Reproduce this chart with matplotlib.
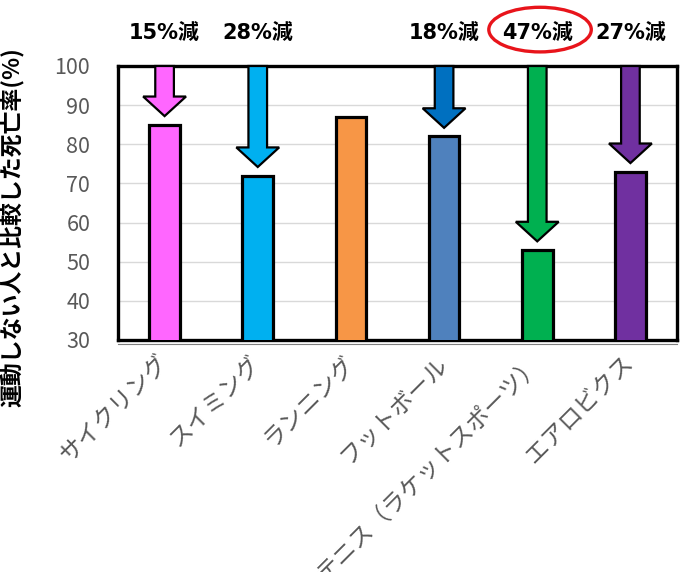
import matplotlib.pyplot as plt
from matplotlib.patches import Polygon, Ellipse

plt.rcParams['font.family'] = ['Noto Sans CJK JP', 'DejaVu Sans']

# data
sports = ["サイクリング", "スイミング", "ランニング", "フットボール",
          "テニス（ラケットスポーツ）", "エアロビクス"]
death_rate = [85, 72, 87, 82, 53, 73]
show_arrow = [True, True, False, True, True, True]
bar_colors = ["#FF66FF", "#00B0F0", "#F79646", "#4F81BD", "#00B050", "#7030A0"]
arrow_colors = ["#FF66FF", "#00B0F0", None, "#0070C0", "#00B050", "#7030A0"]
highlight = 4  # 47%減 gets the red circle


def main():
    fig = plt.figure(figsize=(6.81, 5.72), dpi=100)
    ax = fig.add_axes([118 / 681, 1 - 340 / 572, (677 - 118) / 681, (340 - 66) / 572])

    x = list(range(len(sports)))
    ax.bar(x, death_rate, width=0.33, color=bar_colors, edgecolor="black",
           linewidth=2.3, zorder=3)

    ax.set_xlim(-0.5, len(sports) - 0.5)
    ax.set_ylim(30, 100)
    ax.set_yticks(range(30, 101, 10))
    ax.yaxis.grid(True, color="#D9D9D9", linewidth=1.0, zorder=0)
    ax.set_axisbelow(True)
    for s in ax.spines.values():
        s.set_linewidth(2.4)
        s.set_color("black")
    # thin second line under the bottom border
    ax.plot([0, 1], [-0.013, -0.013], transform=ax.transAxes, clip_on=False,
            color="#7F7F7F", linewidth=0.8)
    ax.tick_params(axis="both", length=0, colors="#595959", labelsize=15.5)
    ax.tick_params(axis="y", pad=20)
    ax.set_xticks(x)
    ax.set_xticklabels(sports, rotation=45, ha="right", va="center",
                       rotation_mode="anchor", fontsize=17)
    ax.tick_params(axis="x", pad=14)

    # arrows and reduction labels
    for i, v in enumerate(death_rate):
        if not show_arrow[i]:
            continue
        tip = v + 2.2
        hl = 5
        sw, hw = 0.1, 0.23
        pts = [(i - sw, 100), (i + sw, 100), (i + sw, tip + hl), (i + hw, tip + hl),
               (i, tip), (i - hw, tip + hl), (i - sw, tip + hl)]
        ax.add_patch(Polygon(pts, closed=True, facecolor=arrow_colors[i],
                             edgecolor="black", linewidth=1.6, zorder=4, clip_on=False))
        ax.text(i, 108.4, f"{100 - v}%減", ha="center", va="center",
                fontsize=15, fontweight="bold", color="black",
                family=["DejaVu Sans", "Noto Sans CJK JP"])

    ax.add_patch(Ellipse((highlight + 0.03, 109.3), 1.1, 11.4, fill=False,
                         edgecolor="#E8141B", linewidth=2.4, clip_on=False))

    fig.text(13 / 681, 1 - 227 / 572, "運動しない人と比較した死亡率(%)",
             rotation=90, ha="center", va="center", fontsize=16.5,
             fontweight="bold", color="black")

    fig.savefig("out.png", dpi=100)


if __name__ == '__main__':
    main()
